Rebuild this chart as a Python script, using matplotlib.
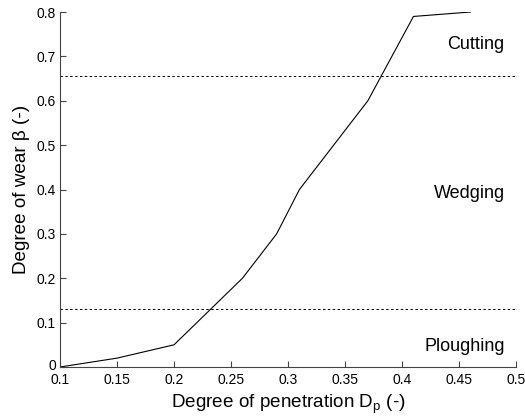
import matplotlib
matplotlib.use("Agg")
import matplotlib.pyplot as plt
from matplotlib.transforms import ScaledTranslation

plt.rcParams["font.family"] = ["Liberation Sans", "DejaVu Sans"]
plt.rcParams["mathtext.fontset"] = "custom"
plt.rcParams["mathtext.rm"] = "Liberation Sans"

# wear degree against penetration depth
penetration = [0.10, 0.15, 0.20, 0.26, 0.29, 0.31, 0.34, 0.37, 0.41, 0.46]
wear = [0.00, 0.02, 0.05, 0.20, 0.30, 0.40, 0.50, 0.60, 0.79, 0.80]

# regime boundaries
ploughing_limit = 0.13
cutting_limit = 0.655

regions = ["Cutting", "Wedging", "Ploughing"]
region_y = [0.727, 0.392, 0.047]

x_ticks = [0.1, 0.15, 0.2, 0.25, 0.3, 0.35, 0.4, 0.45, 0.5]
x_tick_labels = ["0.1", "0.15", "0.2", "0.25", "0.3", "0.35", "0.4", "0.45", "0.5"]
y_ticks = [0, 0.1, 0.2, 0.3, 0.4, 0.5, 0.6, 0.7, 0.8]
y_tick_labels = ["0", "0.1", "0.2", "0.3", "0.4", "0.5", "0.6", "0.7", "0.8"]

fig = plt.figure(figsize=(5.25, 4.17), dpi=100)
ax = fig.add_axes([0.1143, 0.1199, 0.8687, 0.8513])

ax.plot(penetration, wear, color="black", linewidth=0.8)
for level in (cutting_limit, ploughing_limit):
    ax.axhline(level, color="black", linewidth=0.7, linestyle=(0, (2.5, 2.5)))

for name, y in zip(regions, region_y):
    ax.text(0.49, y, name, ha="right", va="center", fontsize=13)

ax.set_xlim(0.1, 0.5)
ax.set_ylim(0, 0.8)
ax.set_xticks(x_ticks, x_tick_labels)
ax.set_yticks(y_ticks, y_tick_labels)
ax.tick_params(direction="in", length=4, width=0.8, labelsize=10, color="#444444")
ax.tick_params(axis="x", pad=4)
ax.tick_params(axis="y", pad=3)

# lift the origin label a little so it clears the "0.1" below it
zero_label = ax.get_yticklabels()[0]
zero_label.set_transform(zero_label.get_transform() + ScaledTranslation(0, 3 / 100, fig.dpi_scale_trans))

ax.spines["top"].set_visible(False)
ax.spines["right"].set_visible(False)
for side in ("left", "bottom"):
    ax.spines[side].set_color("#444444")
    ax.spines[side].set_linewidth(0.8)

ax.set_xlabel("Degree of penetration D$_\\mathrm{p}$ (-)", fontsize=13.6, labelpad=4)
ax.set_ylabel("Degree of wear β (-)", fontsize=13.6, labelpad=5)

fig.savefig("out.png", dpi=100)
